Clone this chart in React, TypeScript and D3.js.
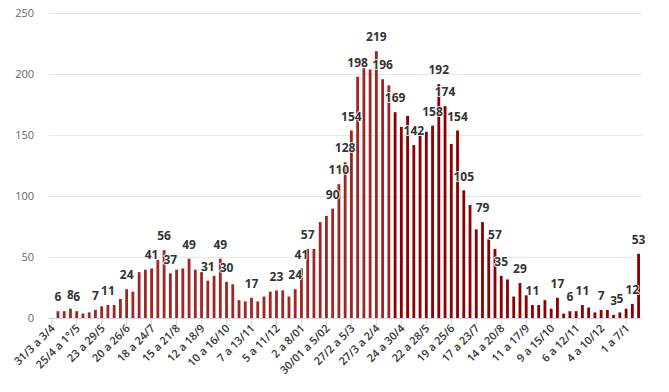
import * as d3 from 'd3';

// weekly values, one per category (week)
const values = [
  0, 6, 6, 8, 6, 4, 5, 7, 10, 11, 11, 16, 24, 22, 38, 40, 41, 48, 56, 37,
  40, 41, 49, 40, 38, 31, 35, 49, 30, 28, 15, 14, 17, 14, 18, 22, 23, 23, 18, 24,
  41, 57, 57, 79, 84, 90, 110, 128, 154, 198, 205, 204, 219, 196, 191, 169, 157, 166, 142, 150,
  153, 158, 192, 174, 143, 154, 105, 93, 73, 79, 65, 57, 35, 32, 18, 29, 19, 11, 11, 15,
  8, 17, 4, 6, 6, 11, 9, 5, 7, 7, 3, 5, 8, 12, 53,
];

// categories that show a data label
const labelled = [
  1, 3, 4, 7, 9, 12, 16, 18, 19, 22, 25, 27, 28, 32, 36, 39, 40, 41, 45, 46,
  47, 48, 49, 52, 53, 55, 58, 61, 62, 63, 65, 66, 69, 71, 72, 75, 77, 81, 83, 85,
  88, 90, 91, 93, 94,
];

// one tick label every 4 weeks
const tickLabels = [
  '31/3 a 3/4', '25/4 a 1°/5', '23 a 29/5', '20 a 26/6', '18 a 24/7', '15 a 21/8',
  '12 a 18/9', '10 a 16/10', '7 a 13/11', '5 a 11/12', '2 a 8/01', '30/01 a 5/02',
  '27/2 a 5/3', '27/3 a 2/4', '24 a 30/4', '22 a 28/5', '19 a 25/6', '17 a 23/7',
  '14 a 20/8', '11 a 17/9', '9 a 15/10', '6 a 12/11', '4 a 10/12', '1 a 7/1',
];

const yTicks = [0, 50, 100, 150, 200, 250];

const colorFirst = '#9e2724';
const colorSecond = '#8b0000';
const splitAt = 55;

const width = 669;
const height = 392;
const font = '"Open Sans", "DejaVu Sans", sans-serif';

export default function App() {
  const cats = values.map((_, i) => i);

  const x = d3.scaleBand<number>()
    .domain(cats)
    .range([48.6, 641.7])
    .paddingInner(0.55)
    .paddingOuter(0.275);

  const y = d3.scaleLinear()
    .domain([0, 250])
    .range([318.5, 13.3]);

  const center = (i: number) => (x(i) ?? 0) + x.bandwidth() / 2;

  return (
    <svg width={width} height={height} style={{ position: 'absolute', left: 0, top: 0 }} fontFamily={font}>
      <rect width={width} height={height} fill="#fff" />

      {/* grid + y labels */}
      {yTicks.map(t => (
        <g key={t}>
          {t > 0 && (
            <line x1={48.6} x2={642} y1={Math.round(y(t)) + 0.5} y2={Math.round(y(t)) + 0.5} stroke="#e6e6e6" />
          )}
          <text x={34} y={y(t)} dy="0.35em" textAnchor="end" fontSize={11} fill="#666">{t}</text>
        </g>
      ))}

      {/* bars */}
      {values.map((v, i) => (
        <rect
          key={i}
          x={x(i)}
          y={y(v)}
          width={x.bandwidth()}
          height={y(0) - y(v)}
          fill={i < splitAt ? colorFirst : colorSecond}
        />
      ))}

      {/* x axis */}
      <line x1={48.6} x2={642} y1={318.5} y2={318.5} stroke="#ccd6eb" />
      {tickLabels.map((lab, k) => {
        const cx = center(k * 4);
        return (
          <g key={lab}>
            <line x1={cx} x2={cx} y1={318.5} y2={325.5} stroke="#ccd6eb" />
            <text
              transform={`translate(${cx + 4},${329}) rotate(-45)`}
              textAnchor="end"
              fontSize={11}
              fontWeight={600}
              fill="#333"
            >
              {lab}
            </text>
          </g>
        );
      })}

      {/* data labels */}
      {labelled.map(i => (
        <text
          key={i}
          x={center(i)}
          y={y(values[i]) - 14}
          dy="0.35em"
          textAnchor="middle"
          fontSize={12}
          fontWeight="bold"
          fill="#333"
          stroke="#fff"
          strokeWidth={1.5}
          strokeLinejoin="round"
          style={{ paintOrder: 'stroke' }}
        >
          {values[i]}
        </text>
      ))}
    </svg>
  );
}
